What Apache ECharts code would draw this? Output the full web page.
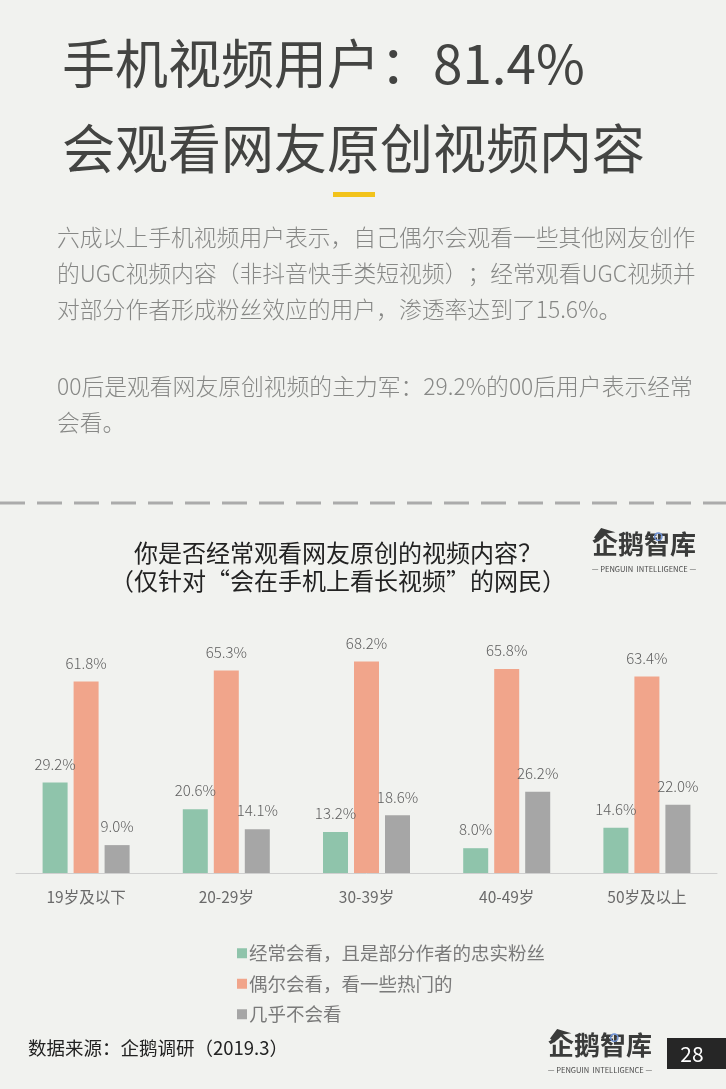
<!DOCTYPE html>
<html>
<head>
<meta charset="utf-8">
<script src="https://cdn.jsdelivr.net/npm/echarts@6/dist/echarts.min.js"></script>
<style>
html,body{margin:0;padding:0;background:#f1f2ef;}
#c{width:726px;height:1089px;}
</style>
</head>
<body>
<div id="c"></div>
<script>
const categories = ['19岁及以下', '20-29岁', '30-39岁', '40-49岁', '50岁及以上'];
const seriesNames = ['经常会看，且是部分作者的忠实粉丝', '偶尔会看，看一些热门的', '几乎不会看'];
const oftenValues = [29.2, 20.6, 13.2, 8.0, 14.6];
const sometimesValues = [61.8, 65.3, 68.2, 65.8, 63.4];
const rarelyValues = [9.0, 14.1, 18.6, 26.2, 22.0];
const titleLines = ['手机视频用户：81.4%', '会观看网友原创视频内容'];
const paragraphLines = [
  '六成以上手机视频用户表示，自己偶尔会观看一些其他网友创作',
  '的UGC视频内容（非抖音快手类短视频）；经常观看UGC视频并',
  '对部分作者形成粉丝效应的用户，渗透率达到了15.6%。',
  '',
  '00后是观看网友原创视频的主力军：29.2%的00后用户表示经常',
  '会看。'
];
const chartTitleLines = ['你是否经常观看网友原创的视频内容？', '（仅针对“会在手机上看长视频”的网民）'];
const sourceText = '数据来源：企鹅调研（2019.3）';
const pageNumber = '28';
const colors = ['#8fc4ab', '#f1a58b', '#a6a6a6'];

const FF = "'Noto Sans CJK SC','Noto Sans',sans-serif";
const chart = echarts.init(document.getElementById('c'), null, {renderer: 'canvas'});

const graphics = [];
// Title
titleLines.forEach((t, i) => {
  graphics.push({type: 'text', x: 62, y: [64, 149][i], style: {
    text: t, fill: '#434442', fontSize: 53, fontFamily: FF, align: 'left', verticalAlign: 'middle'
  }});
});
// yellow bar
graphics.push({type: 'rect', shape: {x: 333, y: 192, width: 42, height: 5}, style: {fill: '#f2c31b'}});
// paragraph
const pY = [237, 273, 309, 347, 386, 422];
paragraphLines.forEach((t, i) => {
  if (!t) return;
  graphics.push({type: 'text', x: 57, y: pY[i], style: {
    text: t, fill: '#878886', fontSize: 22.8, fontFamily: FF, fontWeight: 300, align: 'left', verticalAlign: 'middle'
  }});
});
// dashed line
graphics.push({type: 'line', shape: {x1: 0, y1: 503, x2: 726, y2: 503}, style: {
  stroke: '#ababab', lineWidth: 3, lineDash: [25, 12]
}});
// chart title
chartTitleLines.forEach((t, i) => {
  graphics.push({type: 'text', x: 338, y: [553, 581][i], style: {
    text: t, fill: '#222222', fontSize: 24, fontFamily: FF, align: 'center', verticalAlign: 'middle'
  }});
});
// logos
function logo(x, y, size) {
  graphics.push({type: 'text', x: x, y: y, style: {
    text: '企鹅智库', fill: '#3a3b3a', fontSize: size, fontFamily: FF, fontWeight: 'bold', align: 'left', verticalAlign: 'middle'
  }});
  graphics.push({type: 'text', x: x + size * 2, y: y + size * 0.98, style: {
    text: '— PENGUIN  INTELLIGENCE —', fill: '#4a4a4a', fontSize: size * 0.29, fontFamily: FF, align: 'center', verticalAlign: 'middle'
  }});
  graphics.push({type: 'polygon', shape: {points: [[x + 2, y - size * 0.25], [x + size * 0.35, y - size * 0.62], [x + size * 0.9, y - size * 0.45], [x + size * 0.45, y - size * 0.38], [x + size * 0.25, y - size * 0.1]]}, style: {fill: '#3a3b3a'}});
  graphics.push({type: 'circle', shape: {cx: x + size * 2.55, cy: y - size * 0.28, r: size * 0.14}, style: {fill: 'none', stroke: '#6f93d8', lineWidth: 1.5}});
}
logo(592, 544, 26);
logo(548, 1045, 26);
// footer
graphics.push({type: 'text', x: 28, y: 1048, style: {
  text: sourceText, fill: '#222222', fontSize: 18.5, fontFamily: FF, align: 'left', verticalAlign: 'middle'
}});
graphics.push({type: 'rect', shape: {x: 667, y: 1038, width: 59, height: 31}, style: {fill: '#262626'}});
graphics.push({type: 'text', x: 692, y: 1054, style: {
  text: pageNumber, fill: '#ffffff', fontSize: 21, fontFamily: FF, align: 'center', verticalAlign: 'middle'
}});

const valueSets = [oftenValues, sometimesValues, rarelyValues];
const series = valueSets.map((vals, i) => ({
  name: seriesNames[i],
  type: 'bar',
  data: vals,
  barWidth: 25,
  barGap: '24%',
  itemStyle: {color: colors[i]},
  label: {
    show: true, position: 'top', distance: 11,
    formatter: p => p.value.toFixed(1) + '%',
    color: '#5e5e5e', fontSize: 15, fontFamily: FF, fontWeight: 300
  }
}));

chart.setOption({
  backgroundColor: '#f1f2ef',
  animation: false,
  graphic: graphics,
  grid: {left: 16, right: 9, top: 625, bottom: 216, containLabel: false},
  xAxis: {
    type: 'category', data: categories,
    axisLine: {show: true, lineStyle: {color: '#cfcfcf', width: 1}},
    axisTick: {show: false},
    axisLabel: {color: '#6a6a6a', fontSize: 15.5, fontFamily: FF, margin: 16}
  },
  yAxis: {type: 'value', min: 0, max: 80, show: false, splitLine: {show: false}},
  legend: {
    orient: 'vertical', left: 232, top: 939,
    itemWidth: 10, itemHeight: 10, itemGap: 12, icon: 'rect',
    textStyle: {color: '#7a7a7a', fontSize: 18.5, fontFamily: FF, lineHeight: 18, padding: [0, 0, 0, -3]},
    data: seriesNames
  },
  series: series
});
</script>
</body>
</html>
